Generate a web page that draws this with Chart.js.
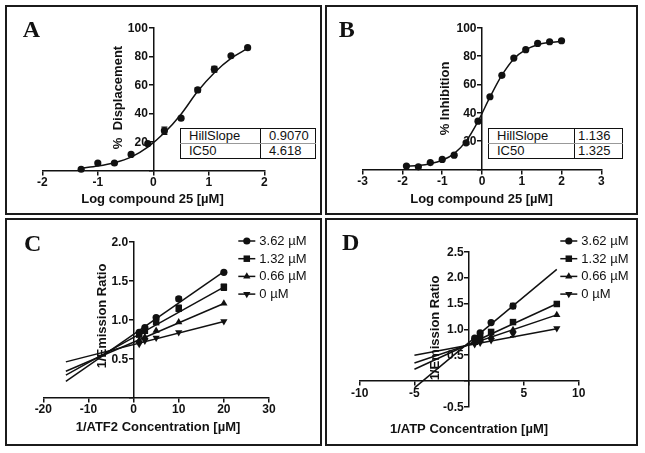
<!DOCTYPE html>
<html>
<head>
<meta charset="utf-8">
<script src="https://cdn.jsdelivr.net/npm/chart.js@4.4.1/dist/chart.umd.min.js"></script>
<style>
  html, body { margin: 0; padding: 0; background: #fff; }
  body { width: 645px; height: 453px; position: relative; overflow: hidden; font-family: "Liberation Sans", Arial, sans-serif; }
  .box { position: absolute; border: 2px solid #1b1b1b; box-sizing: border-box; }
  canvas { position: absolute; }
  table.tbl { position: absolute; border-collapse: collapse; border: 1.5px solid #111; font-size: 13px; color: #111; background: #fff; }
  table.tbl td { padding: 0 0 0 8px; height: 14px; line-height: 14px; border-right: 1px solid #111; white-space: nowrap; }
  table.tbl tr:first-child td { border-bottom: 1px solid #999; }
</style>
</head>
<body>
<div class="box" style="left:5px;top:5px;width:317px;height:210px"></div>
<div class="box" style="left:325px;top:5px;width:313px;height:210px"></div>
<div class="box" style="left:5px;top:218px;width:317px;height:228px"></div>
<div class="box" style="left:325px;top:218px;width:313px;height:228px"></div>

<canvas id="chartA" width="317" height="210" style="left:5px;top:5px"></canvas>
<canvas id="chartB" width="313" height="210" style="left:325px;top:5px"></canvas>
<canvas id="chartC" width="317" height="228" style="left:5px;top:218px"></canvas>
<canvas id="chartD" width="313" height="228" style="left:325px;top:218px"></canvas>

<table class="tbl" style="left:180px;top:128px;width:136px">
  <tr><td style="width:71px">HillSlope</td><td>0.9070</td></tr>
  <tr><td>IC50</td><td>4.618</td></tr>
</table>
<table class="tbl" style="left:488px;top:128px;width:135px">
  <tr><td style="width:77px">HillSlope</td><td style="padding-left:3px">1.136</td></tr>
  <tr><td>IC50</td><td style="padding-left:3px">1.325</td></tr>
</table>

<script>
// ---- panel A: % displacement vs log dose
const aLogDose = [-1.3, -1.0, -0.7, -0.4, -0.1, 0.2, 0.5, 0.8, 1.1, 1.4, 1.7];
const aDisplacement = [1, 5.4, 5.4, 11.4, 18.9, 28, 36.7, 56.5, 71, 80.4, 86];
const aDisplacementErr = [0, 0, 0, 0, 0, 2.5, 0, 1.5, 2, 0, 0];
const aFitX = [-1.3, -1.0, -0.7, -0.4, -0.1, 0.2, 0.5, 0.8, 1.1, 1.4, 1.7];
const aFitY = [1.8, 3.3, 5.6, 9.5, 16.5, 26.5, 39.5, 55.5, 68.5, 78.5, 85.5];

// ---- panel B: % inhibition vs log dose
const bLogDose = [-1.9, -1.6, -1.3, -1.0, -0.7, -0.4, -0.1, 0.2, 0.5, 0.8, 1.1, 1.4, 1.7, 2.0];
const bInhibition = [2.4, 1.9, 4.9, 7.1, 10.1, 18.8, 34.1, 51.3, 66.4, 78.6, 84.5, 88.9, 90.1, 90.8];
const bFitY = [2.4, 2.9, 4.1, 6.5, 11.2, 20, 34, 51, 66.5, 78, 84.5, 88, 89.6, 90.4];

// ---- panel C: 1/emission ratio vs 1/ATF2
const concLabels = ['3.62 \u00b5M', '1.32 \u00b5M', '0.66 \u00b5M', '0 \u00b5M'];
const cInvAtf2 = [1.25, 2.5, 5, 10, 20];
const c362 = [0.84, 0.90, 1.03, 1.27, 1.61];
const c132 = [0.81, 0.86, 0.97, 1.15, 1.42];
const c066 = [0.74, 0.78, 0.86, 0.97, 1.21];
const c000 = [0.69, 0.73, 0.77, 0.84, 0.98];
const c362Err = [0, 0, 0, 0.025, 0];
const c132Err = [0, 0, 0, 0.04, 0.04];
const cFitX = [-15, 20];
const c362Fit = [0.21, 1.62];
const c132Fit = [0.29, 1.42];
const c066Fit = [0.34, 1.21];
const c000Fit = [0.46, 0.98];

// ---- panel D: 1/emission ratio vs 1/ATP
const dInvAtp = [0.5, 1, 2, 4, 8];
const d362 = [0.83, 0.93, 1.13, 1.45, null];
const d132 = [0.76, 0.83, 0.95, 1.14, 1.49];
const d066 = [0.74, 0.79, 0.86, 0.99, 1.28];
const d000 = [0.71, 0.74, 0.79, 0.91, 1.02];
const d362Err = [0, 0, 0, 0.05, 0];
const d000Err = [0, 0, 0, 0.05, 0];
const dFitX = [-5, 8];
const d362Fit = [-0.13, 2.16];
const d132Fit = [0.23, 1.495];
const d066Fit = [0.35, 1.28];
const d000Fit = [0.50, 1.01];

const FONT = '"Liberation Sans", Arial, sans-serif';
const INK = '#111';
const STYLES = ['circle', 'rect', 'triangle', 'down'];

function pts(xs, ys) {
  return xs.map((x, i) => ({ x: x, y: ys[i] }));
}

function markerOpts(style) {
  return {
    pointStyle: style === 'down' ? 'triangle' : style,
    rotation: style === 'down' ? 180 : 0,
    radius: style === 'rect' ? 4.6 : (style === 'circle' ? 3.6 : 4.2)
  };
}

function pointSet(xs, ys, style, label, errs) {
  const m = markerOpts(style);
  return {
    type: 'scatter', label: label, data: pts(xs, ys), errors: errs || null, legendStyle: style,
    pointStyle: m.pointStyle, rotation: m.rotation, pointRadius: m.radius,
    backgroundColor: INK, borderColor: INK, borderWidth: 0, clip: false
  };
}

function lineSet(xs, ys, curved) {
  return {
    type: 'line', data: pts(xs, ys), showLine: true, pointRadius: 0, borderColor: INK,
    borderWidth: 1.5, fill: false, clip: false,
    cubicInterpolationMode: curved ? 'monotone' : 'default', tension: 0
  };
}

function axis(min, max, step, fmt, pos, ownLabels) {
  return {
    type: 'linear', min: min, max: max, position: pos,
    border: { display: true, color: INK, width: 1.5 },
    grid: { display: true, drawOnChartArea: false, drawTicks: true, tickLength: 4, color: INK, lineWidth: 1.5 },
    ticks: { display: !ownLabels, stepSize: step, color: INK, padding: 1, autoSkip: false, maxRotation: 0,
             font: { family: FONT, size: 12, weight: 'bold' }, callback: fmt }
  };
}

const isZero = v => Math.abs(v) < 1e-9;
const intLabel = v => String(Math.round(v));
const noZeroInt = v => isZero(v) ? '' : String(Math.round(v));
const noZeroFixed = v => isZero(v) ? '' : v.toFixed(1);

function drawMarker(ctx, style, x, y, r) {
  ctx.beginPath();
  if (style === 'circle') {
    ctx.arc(x, y, r, 0, Math.PI * 2);
  } else if (style === 'rect') {
    const s = r / Math.SQRT2;
    ctx.rect(x - s, y - s, 2 * s, 2 * s);
  } else {
    const dir = style === 'down' ? -1 : 1;
    for (let k = 0; k < 3; k++) {
      const a = k * 2 * Math.PI / 3;
      const px = x + Math.sin(a) * r, py = y - dir * Math.cos(a) * r;
      if (k === 0) ctx.moveTo(px, py); else ctx.lineTo(px, py);
    }
    ctx.closePath();
  }
  ctx.fill();
}

// y tick labels left of the crossing axis, error bars, titles, letters, legend
const decor = {
  id: 'decor',
  afterDatasetsDraw(chart) {
    const ctx = chart.ctx, xs = chart.scales.x, ys = chart.scales.y;
    ctx.save();
    ctx.strokeStyle = INK;
    ctx.lineWidth = 1.3;
    chart.data.datasets.forEach(ds => {
      if (!ds.errors) return;
      ds.data.forEach((p, i) => {
        const e = ds.errors[i];
        if (!e || p.y == null) return;
        const px = xs.getPixelForValue(p.x);
        const y1 = ys.getPixelForValue(p.y - e), y2 = ys.getPixelForValue(p.y + e);
        ctx.beginPath();
        ctx.moveTo(px, y1); ctx.lineTo(px, y2);
        ctx.moveTo(px - 3, y1); ctx.lineTo(px + 3, y1);
        ctx.moveTo(px - 3, y2); ctx.lineTo(px + 3, y2);
        ctx.stroke();
      });
    });
    ctx.restore();
  },
  afterDraw(chart, args, opts) {
    const ctx = chart.ctx, xs = chart.scales.x, ys = chart.scales.y;
    ctx.save();
    ctx.fillStyle = INK;
    // y tick labels
    const fmt = ys.options.ticks.callback;
    const axisX = xs.getPixelForValue(0);
    ctx.font = 'bold 12px ' + FONT;
    ctx.textAlign = 'right';
    ctx.textBaseline = 'middle';
    ys.ticks.forEach(t => {
      const s = fmt(t.value);
      if (s) ctx.fillText(s, axisX - 5.5, ys.getPixelForValue(t.value) + 0.5);
    });
    (opts.texts || []).forEach(t => {
      ctx.save();
      ctx.font = t.font;
      ctx.textAlign = t.align || 'center';
      ctx.textBaseline = t.baseline || 'middle';
      ctx.translate(t.x, t.y);
      if (t.rot) ctx.rotate(t.rot);
      ctx.fillText(t.text, 0, 0);
      ctx.restore();
    });
    const lg = opts.legend;
    if (lg) {
      const items = chart.data.datasets.filter(d => d.legendStyle && d.label);
      items.forEach((d, i) => {
        const y = lg.y + i * lg.dy;
        ctx.strokeStyle = INK;
        ctx.lineWidth = 1.5;
        ctx.beginPath();
        ctx.moveTo(lg.x, y); ctx.lineTo(lg.x + lg.w, y);
        ctx.stroke();
        drawMarker(ctx, d.legendStyle, lg.x + lg.w / 2, y, d.pointRadius);
        ctx.font = '13px ' + FONT;
        ctx.textAlign = 'left';
        ctx.textBaseline = 'middle';
        ctx.fillText(d.label, lg.x + lg.w + 4, y + 0.5);
      });
    }
    ctx.restore();
  }
};

const LETTER = 'bold 24px "Liberation Serif", "Times New Roman", serif';
const TITLE = 'bold 13px ' + FONT;
const UP = -Math.PI / 2;

function makeChart(id, datasets, xAxis, yAxis, pad, texts, legend) {
  return new Chart(document.getElementById(id), {
    type: 'scatter',
    data: { datasets: datasets },
    options: {
      responsive: false,
      animation: false,
      layout: { padding: pad },
      scales: { x: xAxis, y: yAxis },
      plugins: {
        legend: { display: false },
        tooltip: { enabled: false },
        decor: { texts: texts, legend: legend }
      }
    },
    plugins: [decor]
  });
}

// A
makeChart('chartA',
  [pointSet(aLogDose, aDisplacement, 'circle', null, aDisplacementErr), lineSet(aFitX, aFitY, true)],
  axis(-2, 2, 1, intLabel, { y: 0 }),
  axis(0, 100, 20, noZeroInt, { x: 0 }, true),
  { left: 37.3, right: 57.7, top: 22.7, bottom: 44.3 },
  [
    { text: 'A', x: 17.7, y: 31.7, font: LETTER, align: 'left', baseline: 'alphabetic' },
    { text: '%  Displacement', x: 113, y: 92.5, font: TITLE, rot: UP },
    { text: 'Log compound 25 [\u00b5M]', x: 147.5, y: 194, font: TITLE }
  ]);

// B
makeChart('chartB',
  [pointSet(bLogDose, bInhibition, 'circle', null), lineSet(bLogDose, bFitY, true)],
  axis(-3, 3, 1, intLabel, { y: 0 }),
  axis(0, 100, 20, noZeroInt, { x: 0 }, true),
  { left: 37.7, right: 36.7, top: 22.7, bottom: 45.5 },
  [
    { text: 'B', x: 13.7, y: 31.7, font: LETTER, align: 'left', baseline: 'alphabetic' },
    { text: '% Inhibition', x: 120, y: 93.5, font: TITLE, rot: UP },
    { text: 'Log compound 25 [\u00b5M]', x: 156.5, y: 194, font: TITLE }
  ]);

// C
const cSeries = [c362, c132, c066, c000];
const cErrs = [c362Err, c132Err, null, null];
const cFits = [c362Fit, c132Fit, c066Fit, c000Fit];
makeChart('chartC',
  cFits.map(f => lineSet(cFitX, f, false))
    .concat(cSeries.map((s, i) => pointSet(cInvAtf2, s, STYLES[i], concLabels[i], cErrs[i]))),
  axis(-20, 30, 10, intLabel, { y: 0 }),
  axis(0, 2, 0.5, noZeroFixed, { x: 0 }, true),
  { left: 38.3, right: 53, top: 24, bottom: 48.3 },
  [
    { text: 'C', x: 19, y: 33, font: LETTER, align: 'left', baseline: 'alphabetic' },
    { text: '1/Emission Ratio', x: 97, y: 98, font: TITLE, rot: UP },
    { text: '1/ATF2 Concentration [\u00b5M]', x: 153, y: 209.7, font: TITLE }
  ],
  { x: 233.3, y: 23, dy: 17.7, w: 17 });

// D
const dSeries = [d362, d132, d066, d000];
const dErrs = [d362Err, null, null, d000Err];
const dFits = [d362Fit, d132Fit, d066Fit, d000Fit];
makeChart('chartD',
  dFits.map(f => lineSet(dFitX, f, false))
    .concat(dSeries.map((s, i) => pointSet(dInvAtp, s, STYLES[i], concLabels[i], dErrs[i]))),
  axis(-10, 10, 5, noZeroInt, { y: 0 }),
  axis(-0.5, 2.5, 0.5, noZeroFixed, { x: 0 }, true),
  { left: 34.7, right: 59.3, top: 33.7, bottom: 39 },
  [
    { text: 'D', x: 17, y: 32, font: LETTER, align: 'left', baseline: 'alphabetic' },
    { text: '1/Emission Ratio', x: 110, y: 110, font: TITLE, rot: UP },
    { text: '1/ATP Concentration [\u00b5M]', x: 144, y: 211, font: TITLE }
  ],
  { x: 235.3, y: 23, dy: 17.7, w: 17 });
</script>
</body>
</html>
